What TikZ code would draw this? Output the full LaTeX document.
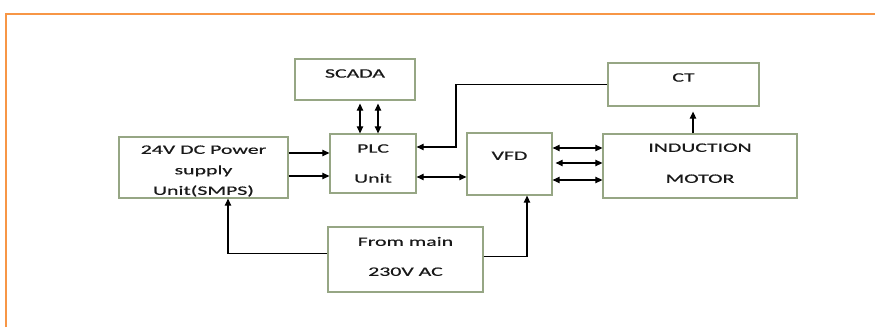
\documentclass[tikz,border=0pt]{standalone}
\usepackage{fontspec}
\usetikzlibrary{arrows.meta}
\newfontfamily\diagfont[FakeStretch=1.69,FakeBold=0.6]{Carlito}
\newcommand\boxfont[1]{\diagfont\fontsize{12.9pt}{#1pt}\selectfont}
\definecolor{framebrd}{RGB}{247,150,70}
\definecolor{boxbrd}{RGB}{150,166,132}
\definecolor{boxtxt}{RGB}{25,25,25}
\tikzset{
  blk/.style={draw=boxbrd, line width=1.3pt, inner sep=0pt, align=center,
    text=boxtxt, text height=8.3pt, font=\boxfont{20}},
  lnk/.style={line width=1.2pt, -{Triangle[length=7pt,width=6.5pt]}},
  dlnk/.style={line width=1.2pt, {Triangle[length=7pt,width=6.5pt]}-{Triangle[length=7pt,width=6.5pt]}}
}
\begin{document}
\begin{tikzpicture}[x=1pt,y=1pt]
\useasboundingbox (0,0) rectangle (875,327);
% frame
\draw[framebrd, line width=2.6pt] (6,0) -- (6,313) -- (875,313);
% blocks
\node[blk, minimum width=120pt, minimum height=41pt, text depth=12pt] (scada) at (355,247.5) {SCADA};
\node[blk, minimum width=86pt, minimum height=59pt, text height=38.3pt, text depth=0pt, font=\boxfont{30}] (plc) at (373,163.5) {PLC\\Unit};
\node[blk, minimum width=169pt, minimum height=61pt, text height=54.7pt, text depth=0pt, font=\boxfont{20.5}] (smps) at (203.5,159.5) {24V DC Power\\supply\\Unit(SMPS)};
\node[blk, minimum width=85pt, minimum height=62pt, text depth=16.4pt] (vfd) at (509.5,163) {VFD};
\node[blk, minimum width=151pt, minimum height=43pt, text depth=14pt] (ct) at (683.5,242.5) {CT};
\node[blk, minimum width=194pt, minimum height=64pt, text height=39.3pt, text depth=5.6pt, font=\boxfont{31}] (motor) at (700,161) {INDUCTION\\MOTOR};
\node[blk, minimum width=155pt, minimum height=65pt, text height=38.3pt, text depth=5.6pt, font=\boxfont{30}] (mains) at (405.5,67.5) {From main\\230V AC};
% SCADA <-> PLC
\draw[dlnk, shorten <=3pt] ([xshift=5pt]scada.south) -- ([xshift=5pt]scada.south |- plc.north);
\draw[dlnk, shorten <=3pt] ([xshift=23pt]scada.south) -- ([xshift=23pt]scada.south |- plc.north);
% power supply -> PLC
\draw[lnk] ([yshift=14.5pt]smps.east) -- ([yshift=14.5pt]smps.east -| plc.west);
\draw[lnk] ([yshift=-8.5pt]smps.east) -- ([yshift=-8.5pt]smps.east -| plc.west);
% PLC <-> VFD
\draw[dlnk] ([yshift=-13.5pt]plc.east) -- ([yshift=-13.5pt]plc.east -| vfd.west);
% CT feedback to PLC
\coordinate (ctbend) at (456,243);
\draw[lnk] (ct.west) -| ([yshift=16.5pt]plc.east -| ctbend) -- ([yshift=16.5pt]plc.east);
% VFD <-> motor
\draw[dlnk] ([yshift=16pt]vfd.east) -- ([yshift=16pt]vfd.east -| motor.west);
\draw[dlnk, shorten <=3pt] ([yshift=1pt]vfd.east) -- ([yshift=1pt]vfd.east -| motor.west);
\draw[dlnk] ([yshift=-16pt]vfd.east) -- ([yshift=-16pt]vfd.east -| motor.west);
% motor -> CT
\draw[lnk, shorten >=5pt] ([xshift=-7pt]motor.north) -- ([xshift=-7pt]motor.north |- ct.south);
% mains supply
\draw[lnk] ([yshift=6pt]mains.west) -| ([xshift=24.5pt]smps.south);
\draw[lnk] ([yshift=3pt]mains.east) -| ([xshift=17.5pt]vfd.south);
\end{tikzpicture}
\end{document}
